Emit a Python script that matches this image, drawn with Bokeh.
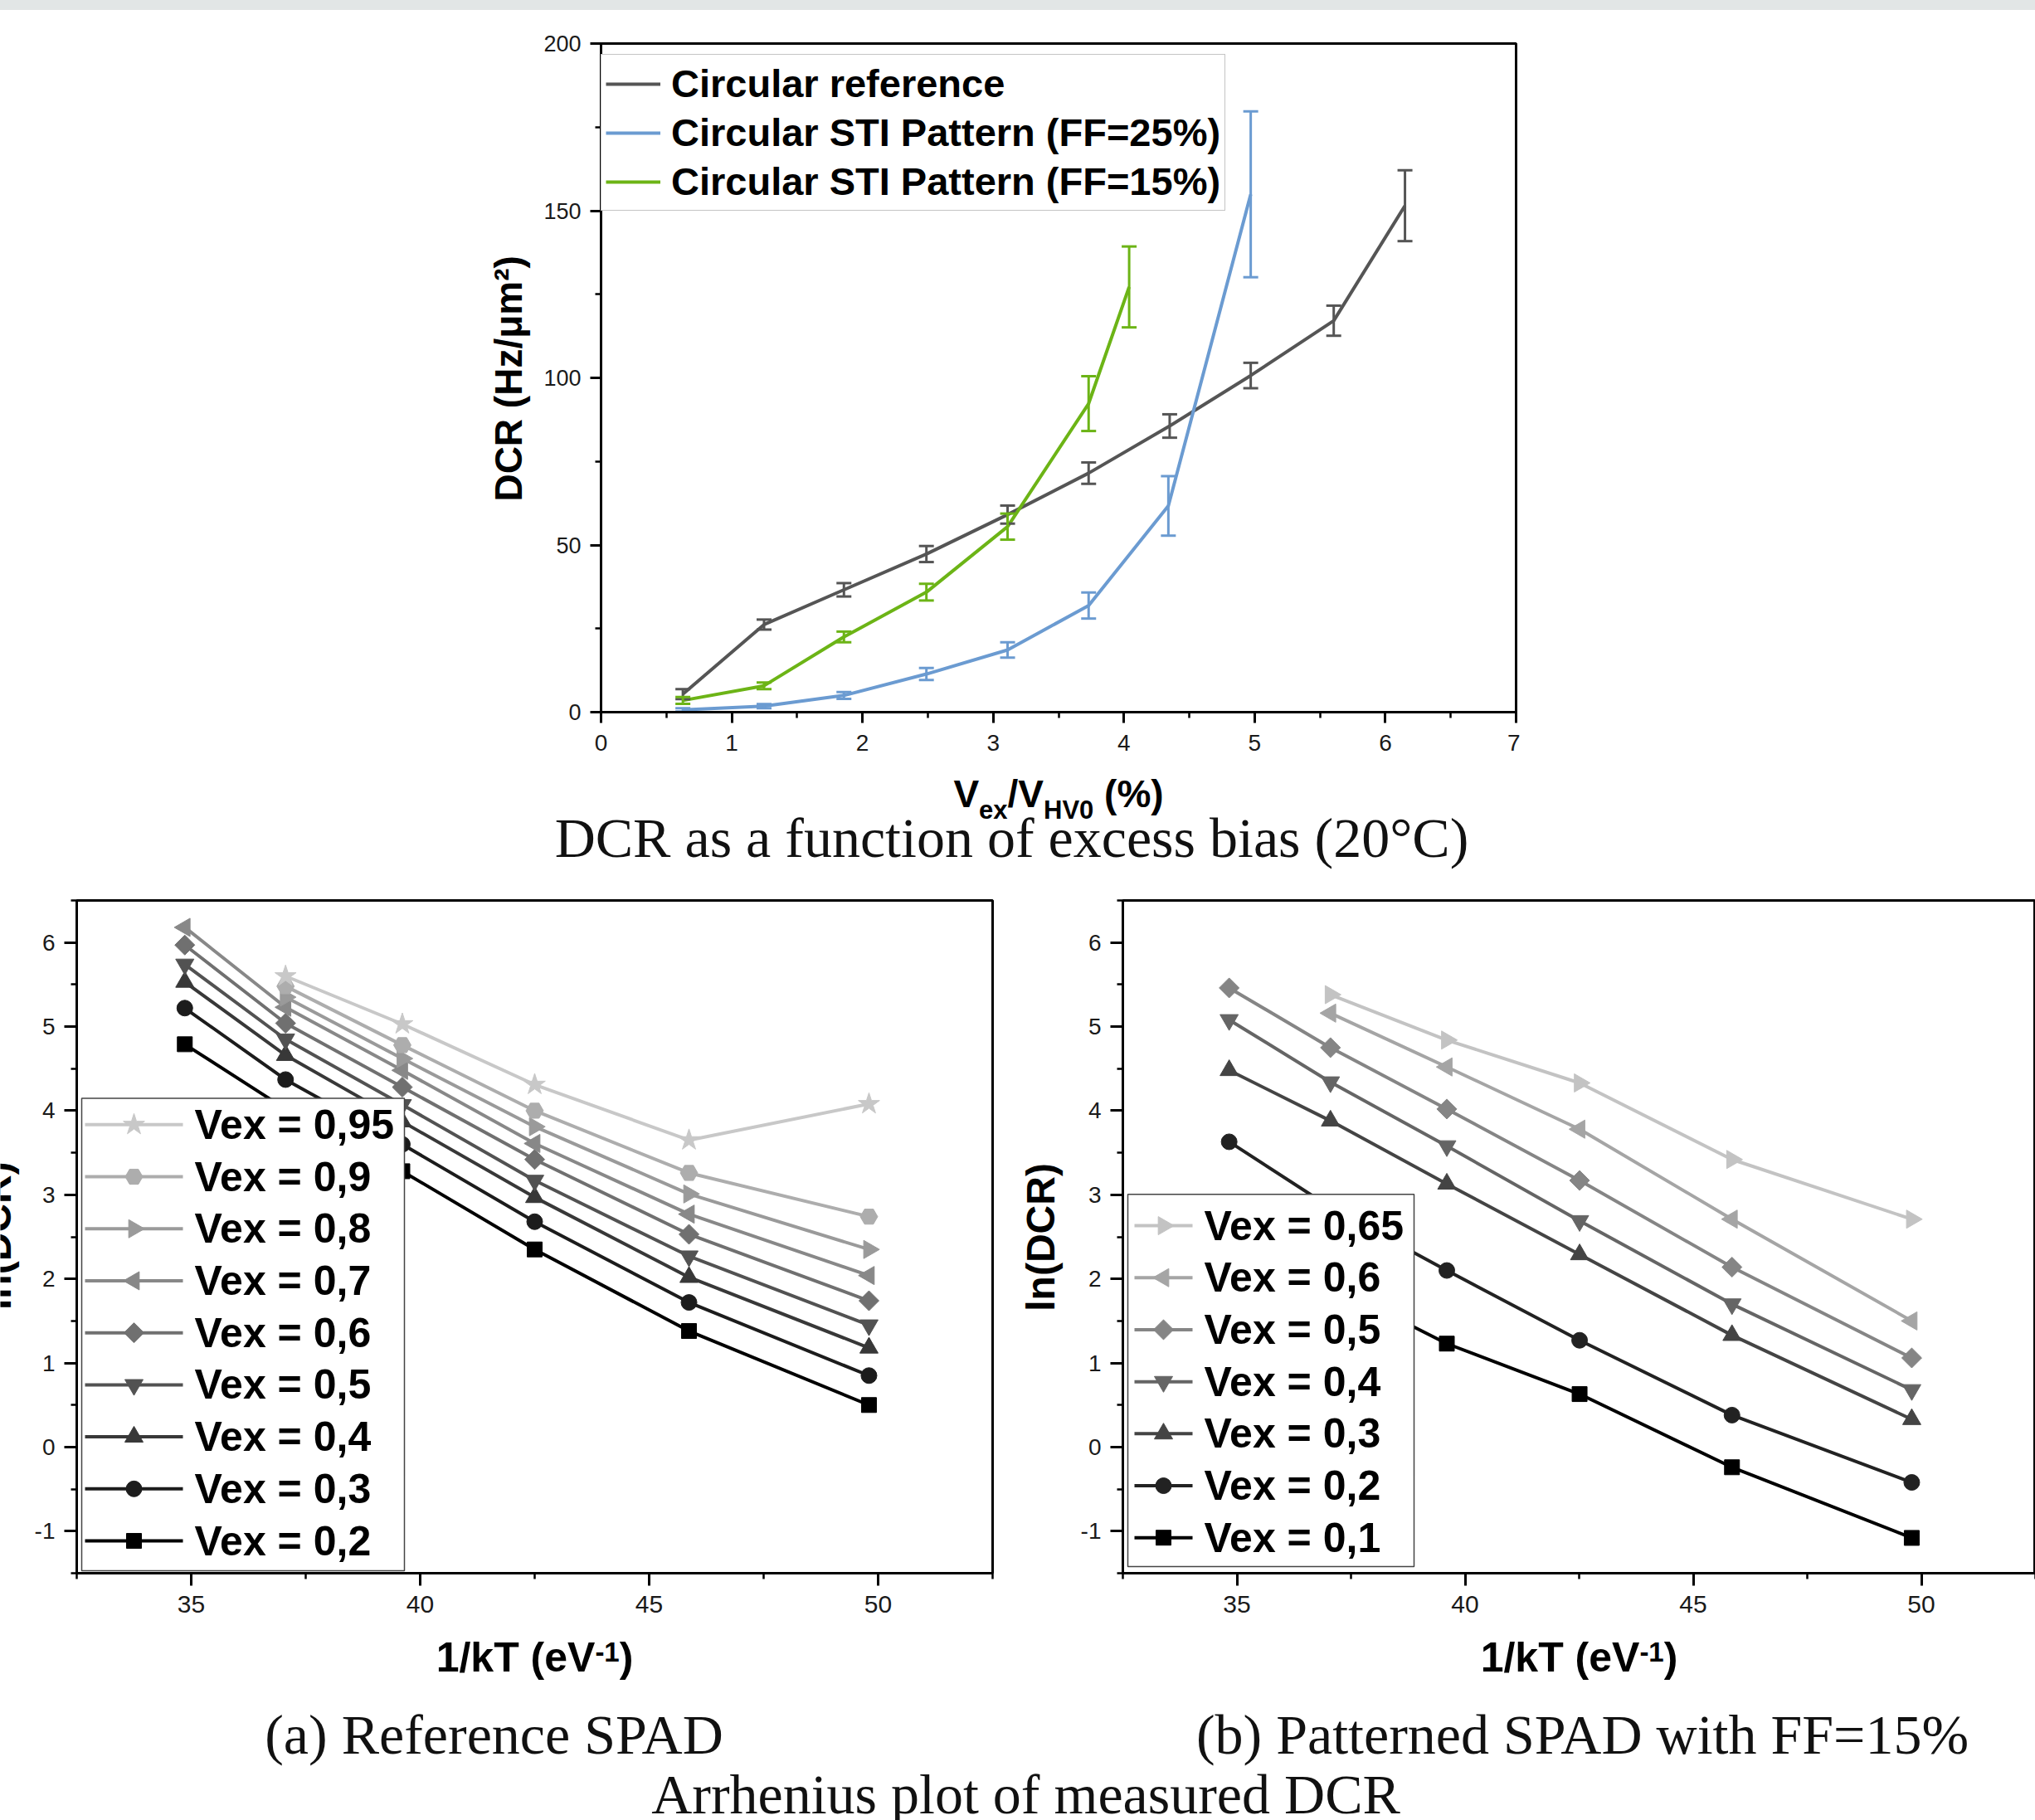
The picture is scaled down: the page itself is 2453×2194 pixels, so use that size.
import math
from bokeh.plotting import figure
from bokeh.layouts import column, row
from bokeh.core.properties import value
from bokeh.models import (Range1d, SingleIntervalTicker, Legend, LegendItem, Spacer,
                          Whisker, TeeHead, ColumnDataSource, InlineStyleSheet, PrintfTickFormatter)
from bokeh.embed import file_html
from bokeh.resources import INLINE

# ---------------- data: DCR vs excess bias (20 C) ----------------
ref_x = [0.626, 1.247, 1.858, 2.489, 3.11, 3.73, 4.35, 4.97, 5.605, 6.15]
ref_y = [5.4, 26.2, 36.6, 47.3, 59.1, 71.5, 85.6, 100.7, 117.1, 151.5]
ref_err = [1.5, 1.5, 2.0, 2.4, 2.7, 3.2, 3.5, 3.8, 4.5, 10.6]

ff25_x = [0.626, 1.247, 1.858, 2.489, 3.11, 3.73, 4.34, 4.97]
ff25_y = [0.7, 1.8, 5.0, 11.4, 18.6, 31.9, 61.7, 154.9]
ff25_err = [0.5, 0.6, 1.0, 1.8, 2.3, 3.9, 8.9, 24.8]

ff15_x = [0.626, 1.247, 1.858, 2.489, 3.11, 3.73, 4.04]
ff15_y = [3.5, 7.9, 22.5, 35.9, 55.5, 92.3, 127.2]
ff15_err = [1.0, 1.0, 1.6, 2.5, 3.9, 8.2, 12.1]

top_labels = ["Circular reference", "Circular STI Pattern (FF=25%)", "Circular STI Pattern (FF=15%)"]

# ---------------- data: Arrhenius, reference SPAD ----------------
ref_invkT = [34.86, 37.06, 39.61, 42.50, 45.87, 49.80]
a_labels = ["Vex = 0,95", "Vex = 0,9", "Vex = 0,8", "Vex = 0,7", "Vex = 0,6",
            "Vex = 0,5", "Vex = 0,4", "Vex = 0,3", "Vex = 0,2"]
a_v095 = [None, 5.60, 5.03, 4.31, 3.65, 4.08]
a_v09 = [None, 5.48, 4.78, 4.00, 3.26, 2.74]
a_v08 = [None, 5.35, 4.62, 3.81, 3.01, 2.35]
a_v07 = [6.18, 5.23, 4.48, 3.61, 2.77, 2.04]
a_v06 = [5.97, 5.04, 4.28, 3.42, 2.53, 1.74]
a_v05 = [5.74, 4.85, 4.07, 3.17, 2.27, 1.45]
a_v04 = [5.53, 4.66, 3.87, 2.97, 2.02, 1.18]
a_v03 = [5.22, 4.37, 3.60, 2.68, 1.72, 0.85]
a_v02 = [4.79, 4.02, 3.28, 2.35, 1.38, 0.50]

# ---------------- data: Arrhenius, patterned SPAD FF=15% ----------------
pat_invkT = [34.83, 37.05, 39.60, 42.51, 45.85, 49.79]
b_labels = ["Vex = 0,65", "Vex = 0,6", "Vex = 0,5", "Vex = 0,4", "Vex = 0,3", "Vex = 0,2", "Vex = 0,1"]
b_v065 = [None, 5.38, 4.84, 4.33, 3.42, 2.71]
b_v06 = [None, 5.16, 4.52, 3.78, 2.71, 1.50]
b_v05 = [5.46, 4.75, 4.02, 3.17, 2.14, 1.06]
b_v04 = [5.08, 4.34, 3.58, 2.69, 1.70, 0.68]
b_v03 = [4.48, 3.88, 3.13, 2.29, 1.33, 0.33]
b_v02 = [3.63, 2.85, 2.10, 1.27, 0.38, -0.42]
b_v01 = [2.65, 1.93, 1.23, 0.63, -0.24, -1.08]

# ---------------- styling helpers ----------------
SANS = "Liberation Sans"
SERIF = "Liberation Serif"
GRAY, BLUE, GREEN = "#555555", "#6b9bd1", "#6cb416"

AW = {' ': 278, '(': 333, ')': 333, '/': 278, '%': 889, '-': 333, '=': 584, ',': 278,
      'A': 722, 'C': 722, 'D': 722, 'H': 722, 'R': 722, 'T': 611, 'V': 667,
      'k': 556, 'e': 556, 'x': 556, 'z': 500, 'μ': 611, 'm': 889, 'l': 278, 'n': 611}
MID_SANS = 0.35
MID_SERIF = 0.34
ROT_FIX = 0.5


def tw(s, fs):
    return sum(AW.get(c, 556) for c in s) * fs / 1000.0


def put(p, conv, X, Y, t, fs, font=SANS, bold=True, align="left", angle=0.0, color="black"):
    x, y = conv(X, Y)
    p.text(x=[x], y=[y], text=[t], angle=angle, text_align=align, text_baseline="middle",
           text_font=value(font), text_font_size=value(f"{fs}px"),
           text_font_style="bold" if bold else "normal", text_color=color)


def put_vertical(p, conv, Xbase, Ycentre, t, fs, fix=ROT_FIX):
    put(p, conv, Xbase - MID_SANS * fs, Ycentre + fix * fs, t, fs, align="center",
        angle=math.pi / 2)


def rich(p, conv, X0, Y0, segs):
    """Horizontal segments of (text, size, raise); X0/Y0 = start on the main baseline."""
    pos = X0
    for t, fs, sh in segs:
        while t.startswith(" "):
            pos += tw(" ", fs)
            t = t[1:]
        put(p, conv, pos, Y0 - sh - MID_SANS * fs, t, fs)
        pos += tw(t, fs)


def caption(p, conv, X, Y, text, fs=68):
    put(p, conv, X, Y - MID_SERIF * fs, text, fs, font=SERIF, bold=False, align="center",
        color="#111111")


def text_fig(X0, Y0, W, H):
    p = figure(width=W, height=H, x_range=Range1d(0, W), y_range=Range1d(0, H), title=None,
               x_axis_location=None, y_axis_location=None, toolbar_location=None,
               output_backend="svg", min_border=0)
    p.outline_line_color = None
    p.xgrid.visible = False
    p.ygrid.visible = False
    p.background_fill_color = "white"
    p.border_fill_color = "white"

    def conv(X, Y):
        return (X - X0, H - (Y - Y0))
    return p, conv


def style(p, xfs, yfs, tick_out, xstand, ystand):
    for ax in (p.xaxis[0], p.yaxis[0]):
        ax.axis_line_width = 3
        ax.axis_line_color = "black"
        ax.major_tick_in = 0
        ax.major_tick_out = tick_out
        ax.minor_tick_in = 0
        ax.minor_tick_out = 7
        ax.major_tick_line_width = 3
        ax.minor_tick_line_width = 2.5
        ax.major_tick_line_color = "black"
        ax.minor_tick_line_color = "black"
        ax.major_label_text_font = SANS
        ax.major_label_text_color = "#1a1a1a"
    p.xaxis[0].major_label_text_font_size = f"{xfs}px"
    p.yaxis[0].major_label_text_font_size = f"{yfs}px"
    p.xaxis[0].major_label_standoff = xstand
    p.yaxis[0].major_label_standoff = ystand
    p.xgrid.visible = False
    p.ygrid.visible = False
    p.outline_line_color = "black"
    p.outline_line_width = 3
    p.outline_line_alpha = 1.0
    p.background_fill_color = "white"
    p.border_fill_color = "white"


# ---------------- top section ----------------
A, conv_A = text_fig(0, 0, 645, 920)
A.stylesheets = [InlineStyleSheet(css=":host::before{content:'';position:fixed;top:0;left:0;"
                                      "width:2453px;height:12px;background:#e2e6e6;z-index:5;}")]

top = figure(width=1187, height=920, x_range=Range1d(0, 7), y_range=Range1d(0, 200),
             output_backend="svg", toolbar_location=None,
             min_border_left=79, min_border_right=5, min_border_top=52, min_border_bottom=62)
style(top, 28, 27, 13, 14, 11)
top.xaxis[0].ticker = SingleIntervalTicker(interval=1, num_minor_ticks=2)
top.yaxis[0].ticker = SingleIntervalTicker(interval=50, num_minor_ticks=2)

top_items = []
for lab, xs, ys, es, c in [(top_labels[0], ref_x, ref_y, ref_err, GRAY),
                           (top_labels[1], ff25_x, ff25_y, ff25_err, BLUE),
                           (top_labels[2], ff15_x, ff15_y, ff15_err, GREEN)]:
    r = top.line(xs, ys, line_color=c, line_width=4, line_join="round")
    src = ColumnDataSource(dict(base=xs, upper=[y + e for y, e in zip(ys, es)],
                                lower=[y - e for y, e in zip(ys, es)]))
    top.add_layout(Whisker(source=src, base="base", upper="upper", lower="lower",
                           line_color=c, line_width=3, level="glyph",
                           upper_head=TeeHead(size=18, line_color=c, line_width=3),
                           lower_head=TeeHead(size=18, line_color=c, line_width=3)))
    top_items.append(LegendItem(label=lab, renderers=[r]))

top.add_layout(Legend(items=top_items, location=(0, 604), label_text_font=SANS,
                      label_text_font_size="47px", label_text_font_style="bold",
                      label_text_color="black", glyph_width=66, glyph_height=20,
                      label_height=59, label_standoff=13, padding=5, spacing=0, margin=0,
                      border_line_color="#8a8a8a", border_line_width=1.5,
                      background_fill_color="white", background_fill_alpha=1.0))

C = Spacer(width=621, height=920)

put_vertical(A, conv_A, 629, 455, "DCR (Hz/μm²)", 46, fix=0.13)

D, conv_D = text_fig(0, 920, 2453, 142)
xl = [("V", 46, 0), ("ex", 31, -14), ("/V", 46, 0), ("HV0", 31, -14), (" (%)", 46, 0)]
xl_w = sum(tw(t, f) for t, f, _ in xl)
rich(D, conv_D, 1275.5 - xl_w / 2, 973, xl)
caption(D, conv_D, 1219, 1033, "DCR as a function of excess bias (20°C)")

# ---------------- bottom section ----------------
def conv_l(X, Y):
    return (32.5 + (X - 92) * 20 / 1104.0, 6.5 - (Y - 1085) * 8 / 816.0)


def conv_r(X, Y):
    return (32.5 + (X - 1353) * 20 / 1100.0, 6.5 - (Y - 1081) * 8 / 815.0)


BOT_H = 907


def arrh_fig(w, ml, mr, mt, mb):
    p = figure(width=w, height=BOT_H, x_range=Range1d(32.5, 52.5), y_range=Range1d(-1.5, 6.5),
               output_backend="svg", toolbar_location=None,
               min_border_left=ml, min_border_right=mr, min_border_top=mt, min_border_bottom=mb)
    style(p, 30, 28, 15, 12, 11)
    p.xaxis[0].ticker = SingleIntervalTicker(interval=5, num_minor_ticks=2)
    p.yaxis[0].ticker = SingleIntervalTicker(interval=1, num_minor_ticks=2)
    p.yaxis[0].formatter = PrintfTickFormatter(format="%d")
    return p


def add_series(p, xs, ys, color, marker, size, angle=0.0):
    pts = [(x, y) for x, y in zip(xs, ys) if y is not None]
    px = [a for a, _ in pts]
    py = [b for _, b in pts]
    p.line(px, py, line_color=color, line_width=4, line_join="round")
    p.scatter(px, py, marker=marker, size=size, angle=angle, fill_color=color, line_color=color)


def manual_legend(p, conv, box, row0, dy, lx0, lx1, tx, series, labels):
    bx0, by0 = conv(box[0], box[3])
    bx1, by1 = conv(box[1], box[2])
    p.quad(left=[bx0], right=[bx1], bottom=[by0], top=[by1], fill_color="white",
           line_color="#444444", line_width=1.5)
    for i, ((ys, c, m, s, ang), lab) in enumerate(zip(series, labels)):
        Y = row0 + i * dy
        x0, y = conv(lx0, Y)
        x1, _ = conv(lx1, Y)
        xm, _ = conv((lx0 + lx1) / 2, Y)
        p.segment(x0=[x0], y0=[y], x1=[x1], y1=[y], line_color=c, line_width=4)
        p.scatter([xm], [y], marker=m, size=s, angle=ang, fill_color=c, line_color=c)
        put(p, conv, tx, Y, lab, 50)


Lt, conv_Lt = text_fig(0, 1062, 26, BOT_H)
left = arrh_fig(1204, 66, 34, 23, BOT_H - 23 - 816)
a_series = [(a_v095, "#c8c8c8", "star", 27, 0.0),
            (a_v09, "#adadad", "hex", 21, 0.0),
            (a_v08, "#9a9a9a", "triangle", 22, -math.pi / 2),
            (a_v07, "#888888", "triangle", 22, math.pi / 2),
            (a_v06, "#707070", "square", 17, math.pi / 4),
            (a_v05, "#525252", "inverted_triangle", 22, 0.0),
            (a_v04, "#383838", "triangle", 22, 0.0),
            (a_v03, "#1c1c1c", "circle", 19, 0.0),
            (a_v02, "#000000", "square", 18, 0.0)]
for ys, c, m, s, ang in a_series[::-1]:
    add_series(left, ref_invkT, ys, c, m, s, ang)
manual_legend(left, conv_l, (98, 487, 1325, 1898), 1357, 63.1, 102, 220, 234, a_series, a_labels)

Rt, conv_Rt = text_fig(1230, 1062, 60, BOT_H)
right = arrh_fig(1163, 63, 0, 19, BOT_H - 19 - 815)
b_series = [(b_v065, "#c3c3c3", "triangle", 22, -math.pi / 2),
            (b_v06, "#a5a5a5", "triangle", 22, math.pi / 2),
            (b_v05, "#858585", "square", 17, math.pi / 4),
            (b_v04, "#656565", "inverted_triangle", 22, 0.0),
            (b_v03, "#444444", "triangle", 22, 0.0),
            (b_v02, "#222222", "circle", 19, 0.0),
            (b_v01, "#000000", "square", 18, 0.0)]
for ys, c, m, s, ang in b_series[::-1]:
    add_series(right, pat_invkT, ys, c, m, s, ang)
manual_legend(right, conv_r, (1359, 1704, 1437, 1888), 1475, 63.0, 1367, 1437, 1451, b_series, b_labels)

put_vertical(Lt, conv_Lt, 13, 1490, "ln(DCR)", 48)
put_vertical(Rt, conv_Rt, 1271, 1492, "ln(DCR)", 48)

E_TOP = 1062 + BOT_H
E, conv_E = text_fig(0, E_TOP, 2453, 2194 - E_TOP)
kt = [("1/kT (eV", 50, 0), ("-1", 33, 12), (")", 50, 0)]
kt_w = sum(tw(t, f) for t, f, _ in kt)
rich(E, conv_E, 644 - kt_w / 2, 2015, kt)
rich(E, conv_E, 1903 - kt_w / 2, 2015, kt)
caption(E, conv_E, 595, 2114, "(a) Reference SPAD")
caption(E, conv_E, 1907, 2114, "(b) Patterned SPAD with FF=15%")
caption(E, conv_E, 1236, 2186, "Arrhenius plot of measured DCR")

layout = column(row(A, top, C, spacing=0), D,
                row(Lt, left, Rt, right, spacing=0), E, spacing=0)
open("out.html", "w").write(file_html(layout, INLINE))
